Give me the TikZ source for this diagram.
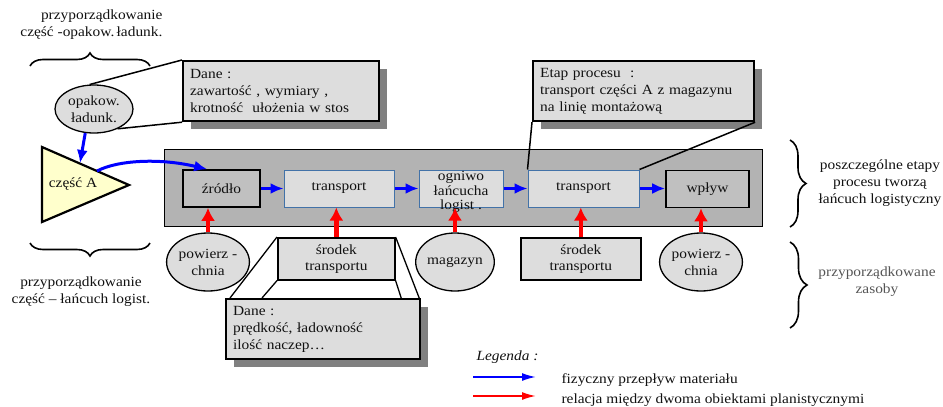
\documentclass[tikz,border=0pt]{standalone}
\usepackage{fontspec}
\setmainfont{Liberation Serif}[FakeStretch=1.1]
\usetikzlibrary{arrows.meta,shapes.geometric,decorations.pathreplacing,shadows,calc}
\definecolor{boxgray}{HTML}{DDDDDD}
\definecolor{biggray}{HTML}{B3B3B3}
\definecolor{endgray}{HTML}{C0C0C0}
\definecolor{shadowc}{HTML}{808080}
\definecolor{stageblue}{HTML}{4272A8}
\definecolor{flowblue}{HTML}{0000FF}
\definecolor{relred}{HTML}{FF0000}
\definecolor{trifill}{HTML}{FFFFCC}
\definecolor{textc}{HTML}{111111}
\definecolor{grayt}{HTML}{555555}
\tikzset{
  txt/.style={font=\fontsize{14}{17}\selectfont, text=textc},
  databox/.style={txt, draw=black, line width=2.2pt, fill=boxgray, anchor=north west,
     align=left, inner xsep=7pt, inner ysep=0pt,
     drop shadow={shadow xshift=8pt, shadow yshift=-8pt, opacity=1, fill=shadowc, shadow scale=1}},
  stagebox/.style={txt, draw=stageblue, line width=1pt, fill=boxgray, minimum height=37pt, inner sep=0pt, align=center},
  endbox/.style={txt, draw=black, line width=1.6pt, fill=endgray, minimum height=37pt, inner sep=0pt, align=center},
  resell/.style={txt, ellipse, draw=black, line width=1.3pt, fill=boxgray, inner sep=0pt, minimum height=58pt, align=center},
  resbox/.style={txt, draw=black, line width=1.6pt, fill=boxgray, minimum width=117pt, minimum height=42pt, inner sep=0pt, align=center, font=\fontsize{14}{16}\selectfont},
  flow/.style={draw=flowblue, line width=3pt, -{Latex[length=13pt,width=11pt]}},
  rel/.style={draw=relred, line width=4.6pt, -{Latex[length=13pt,width=14pt]}},
  callout/.style={draw=black, line width=1.5pt},
  thinline/.style={draw=black, line width=1.3pt},
  bracedec/.style={draw=black, line width=1.6pt, decorate, decoration={brace, amplitude=#1}},
}
\begin{document}
\begin{tikzpicture}[x=1pt,y=-1pt]
\useasboundingbox (0,0) rectangle (943,407);

% top-left labels and brace
\node[txt, align=right, anchor=north east] (tl) at (166,6) {przyporządkowanie\\część -opakow.\,ładunk.};
\draw[bracedec=13pt] (30,66) -- (150,66);

% big grey chain rectangle
\node[draw=black, line width=1pt, fill=biggray, minimum width=598pt, minimum height=77pt, inner sep=0pt, anchor=north west] (chain) at (164,149) {};

% data box 1
\node[databox, text width=182pt, minimum height=60pt] (d1) at (182,60) {Dane :\\zawartość~, wymiary~,\\krotność~ ułożenia w stos};

% ellipse opakow.
\node[resell, minimum width=78pt, minimum height=48pt] (op) at (94,109) {opakow.\\ładunk.};
\draw[callout] (op.100) -- (d1.north west);
\draw[callout] (op.-40) -- (d1.south west);

% triangle
\coordinate (ta) at (42,147);
\coordinate (tb) at (129,185);
\coordinate (tc) at (42,222);
\draw[draw=black, line width=2.2pt, fill=trifill, line join=miter] (ta) -- (tb) -- (tc) -- cycle;
\node[txt] (czesc) at (73,184) {część A};
\coordinate (tin) at (80,163);
\coordinate (tout) at (97,171);
\draw[flow] (op.250) -- (tin);

% stage boxes
\node[endbox, minimum width=77pt] (zr) at (221.5,188.5) {źródło};
\node[stagebox, minimum width=110pt] (t1) at (339,188.5) {transport};
\node[stagebox, minimum width=84pt] (og) at (461,188.5) {};
\node[txt, align=center, font=\fontsize{14}{14.5}\selectfont] (ogt) at (461,192) {ogniwo\\łańcucha\\logist .};
\node[stagebox, minimum width=111pt] (t2) at (583.5,188.5) {transport};
\node[endbox, minimum width=83pt] (wp) at (707.5,189) {wpływ};

\coordinate (zin) at ($(zr.north west)+(25,0)$);
\draw[flow] (tout) .. controls (118,160) and (160,158) .. (zin);
\draw[flow] (zr.east) -- (t1.west);
\draw[flow] (t1.east) -- (og.west);
\draw[flow] (og.east) -- (t2.west);
\draw[flow] (t2.east) -- (wp.west |- t2.east);

% data box "Etap procesu"
\node[databox, text width=207pt, minimum height=60pt] (et) at (532,60) {Etap procesu~ :\\transport części A z magazynu\\na linię montażową};
\draw[callout] (et.south west) -- (t2.north west);
\draw[callout] (et.south east) -- (t2.north east);

% resources
\node[resell, minimum width=77pt] (p1) at (208,262) {powierz -\\chnia};
\node[resbox, anchor=north west] (s1) at (277,237) {środek\\transportu};
\node[resell, minimum width=72pt] (mg) at (455,262) {magazyn};
\node[resbox, anchor=north west, minimum width=120pt] (s2) at (520,237) {środek\\transportu};
\node[resell, minimum width=78pt] (p2) at (701,262) {powierz -\\chnia};

\draw[rel] (p1.north) -- (p1.north |- zr.south);
\draw[rel] (s1.north) -- (s1.north |- t1.south);
\draw[rel] (mg.north) -- (mg.north |- og.south);
\draw[rel] (s2.north) -- (s2.north |- t2.south);
\draw[rel] (p2.north) -- (p2.north |- wp.south);

% data box 2
\node[databox, text width=180pt, minimum height=60pt] (d2) at (225,298) {Dane :\\prędkość, ładowność\\ilość naczep…};
\draw[thinline] (s1.north west) -- ($(d2.north west)+(5,0)$);
\draw[thinline] (s1.south west) -- ($(d2.north west)+(37,0)$);
\draw[thinline] (s1.north east) -- ($(d2.north east)+(-2,0)$);
\draw[thinline] (s1.south east) -- ($(d2.north east)+(-20,0)$);

% bottom-left brace and label
\draw[bracedec=13pt] (150,243) -- (30,243);
\node[txt, align=center, anchor=north] (bl) at (81,273) {przyporządkowanie\\część – łańcuch logist.};

% right braces and labels
\draw[bracedec=16pt] (790,140) -- (790,227);
\node[txt, align=center] (rt) at (880,183) {poszczególne etapy\\procesu tworzą\\łańcuch logistyczny};
\draw[bracedec=17pt] (790,242) -- (790,328);
\node[txt, align=center, text=grayt] (rz) at (877,282) {przyporządkowane\\zasoby};

% legend
\node[txt, anchor=base west, font=\fontsize{14}{17}\selectfont\itshape] (leg) at (473,360) {Legenda :};
\coordinate (lb1) at (473,377);
\coordinate (lb2) at (536,377);
\coordinate (lr1) at (473,396);
\coordinate (lr2) at (536,396);
\draw[draw=flowblue, line width=1.8pt, -{Latex[length=14pt,width=8pt]}] (lb1) -- (lb2);
\draw[draw=relred, line width=1.8pt, -{Latex[length=14pt,width=8pt]}] (lr1) -- (lr2);
\node[txt, anchor=base west] (lt1) at (558,383) {fizyczny przepływ materiału};
\node[txt, anchor=base west] (lt2) at (558,403) {relacja między dwoma obiektami planistycznymi};
\end{tikzpicture}
\end{document}
